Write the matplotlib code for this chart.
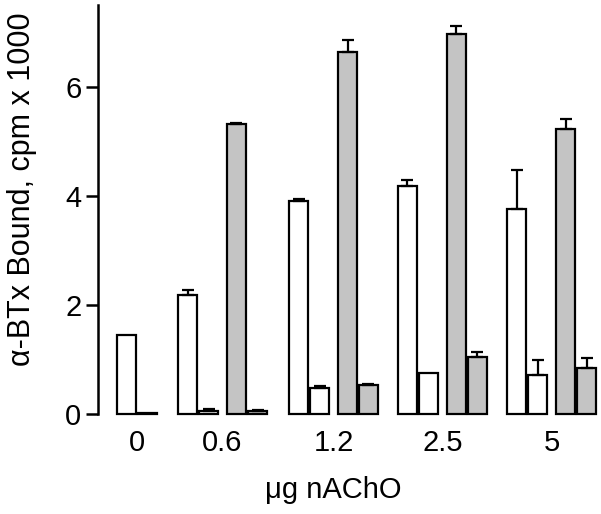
import numpy as np
import matplotlib
matplotlib.use("Agg")
import matplotlib.pyplot as plt

plt.rcParams["font.family"] = ["Liberation Sans", "DejaVu Sans"]

# nAChO dose groups
doses = ["0", "0.6", "1.2", "2.5", "5"]

# bound alpha-BTx, cpm x 1000 (NaN = not measured)
white_a = [1.45, 2.18, 3.91, 4.18, 3.76]
white_b = [0.02, 0.05, 0.48, 0.75, 0.72]
gray_a = [np.nan, 5.32, 6.64, 6.97, 5.23]
gray_b = [np.nan, 0.05, 0.53, 1.05, 0.85]

# upper error bars
white_a_err = [0.0, 0.09, 0.03, 0.11, 0.72]
white_b_err = [0.0, 0.04, 0.03, 0.0, 0.27]
gray_a_err = [np.nan, 0.02, 0.22, 0.15, 0.18]
gray_b_err = [np.nan, 0.02, 0.02, 0.09, 0.18]

fig = plt.figure(figsize=(6.01, 5.14), dpi=100)
ax = fig.add_axes([98 / 601, 100 / 514, 503 / 601, 409 / 514])

# group left edges (pixel-like units), bar width and gaps
starts = np.array([19, 80, 191, 300, 409])
w = 19
pair_gap = 21
gray_off = 49

series = [
    (white_a, white_a_err, 0, "white"),
    (white_b, white_b_err, pair_gap, "white"),
    (gray_a, gray_a_err, gray_off, "#c4c4c4"),
    (gray_b, gray_b_err, gray_off + pair_gap, "#c4c4c4"),
]

for vals, errs, off, col in series:
    vals = np.array(vals, dtype=float)
    errs = np.array(errs, dtype=float)
    x = starts + off + w / 2
    ok = ~np.isnan(vals)
    ax.bar(x[ok], vals[ok], width=w, color=col, edgecolor="black",
           linewidth=1.6, clip_on=False, zorder=2)
    has = ok & (errs > 0)
    ax.errorbar(x[has], vals[has], yerr=[np.zeros(has.sum()), errs[has]],
                fmt="none", ecolor="black", elinewidth=1.6, capsize=4.5,
                capthick=1.6, zorder=3)

# label under each group's centre
centers = []
for i, s in enumerate(starts):
    if i == 0:
        centers.append(s + (pair_gap + w) / 2)
    else:
        centers.append(s + (gray_off + pair_gap + w) / 2)

ax.set_xlim(0, 503)
ax.set_ylim(0, 7.5)
ax.set_xticks(centers)
ax.set_xticklabels(doses)
ax.set_yticks([0, 2, 4, 6])
ax.tick_params(axis="x", length=0, pad=11, labelsize=21)
ax.tick_params(axis="y", length=9, width=1.8, pad=3, labelsize=21)

for side in ["top", "right", "bottom"]:
    ax.spines[side].set_visible(False)
ax.spines["left"].set_linewidth(1.8)

ax.set_xlabel("μg nAChO", fontsize=21, va="center")
ax.xaxis.set_label_coords(0.467, -0.186)
ax.set_ylabel("α-BTx Bound, cpm x 1000", fontsize=22, va="center")
ax.yaxis.set_label_coords(-0.151, 0.55)

fig.savefig("out.png", dpi=100)
